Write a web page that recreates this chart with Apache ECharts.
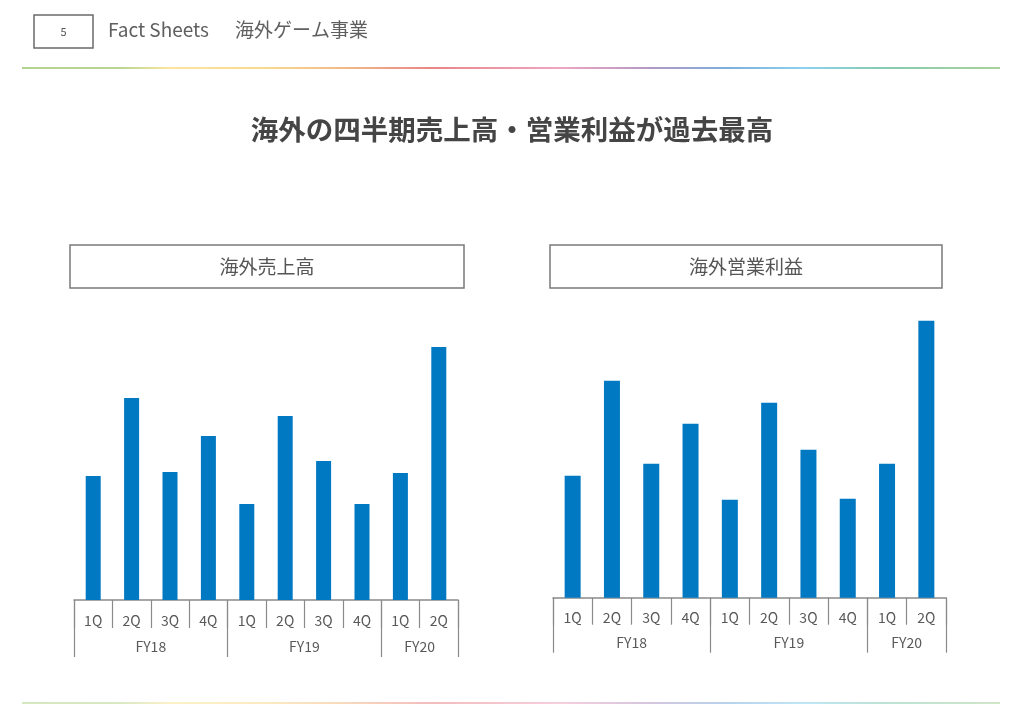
<!DOCTYPE html>
<html>
<head>
<meta charset="utf-8">
<script src="https://cdn.jsdelivr.net/npm/echarts@6/dist/echarts.min.js"></script>
<style>
html,body{margin:0;padding:0;background:#fff;}
#chart{width:1024px;height:716px;}
</style>
</head>
<body>
<div id="chart"></div>
<script>
// ---- data ----
const quarters = ['1Q','2Q','3Q','4Q','1Q','2Q','3Q','4Q','1Q','2Q'];
const fiscalYears = ['FY18','FY19','FY20'];
const groupSizes = [4,4,2];
const overseasSales = [124, 202, 128, 164, 96, 184, 139, 96, 127, 253];
const overseasProfit = [122, 217, 134, 174, 98, 195, 148, 99, 134, 277];
const pageTitle = '海外の四半期売上高・営業利益が過去最高';
const leftTitle = '海外売上高';
const rightTitle = '海外営業利益';
const headerLatin = 'Fact Sheets';
const headerJa = '海外ゲーム事業';
const pageNo = '5';

// build group axis (points at category boundaries / group centres)
const groupPoints = new Array(quarters.length + 1).fill('');
const boundaryIdx = [0];
let acc = 0;
groupSizes.forEach((s, i) => {
  groupPoints[acc + s / 2] = fiscalYears[i];
  acc += s;
  boundaryIdx.push(acc);
});

const FONT = '"Noto Sans CJK JP", "Noto Sans", sans-serif';
const AX = '#8a8a8a';
const LBL = '#595959';
const BAR = '#0079c2';

function axesFor(gridIndex, shortLen, longLen, qMargin, fyMargin) {
  return [
    {
      type: 'category', gridIndex, position: 'bottom', data: quarters,
      axisLine: {show: true, lineStyle: {color: AX, width: 1.5}},
      axisTick: {show: true, interval: 0, length: shortLen, lineStyle: {color: AX, width: 1.2}},
      axisLabel: {interval: 0, margin: qMargin, color: LBL, fontSize: 14, fontFamily: FONT},
      splitLine: {show: false}
    },
    {
      type: 'category', gridIndex, position: 'bottom', data: groupPoints, boundaryGap: false,
      axisLine: {show: false},
      axisTick: {show: true, length: longLen,
        interval: (i) => boundaryIdx.indexOf(i) >= 0,
        lineStyle: {color: AX, width: 1.2}},
      axisLabel: {margin: fyMargin, color: LBL, fontSize: 14, fontFamily: FONT,
        interval: (i, v) => v !== ''},
      splitLine: {show: false}
    }
  ];
}

const lineStops = [
  {offset: 0.00, color: '#b3d48f'},
  {offset: 0.10, color: '#b8d692'},
  {offset: 0.15, color: '#fbe59b'},
  {offset: 0.25, color: '#f8d98f'},
  {offset: 0.33, color: '#f2ba86'},
  {offset: 0.42, color: '#e98688'},
  {offset: 0.55, color: '#efa6c1'},
  {offset: 0.64, color: '#b498c4'},
  {offset: 0.72, color: '#7eaedb'},
  {offset: 0.80, color: '#8ad2ef'},
  {offset: 0.88, color: '#86cbb2'},
  {offset: 1.00, color: '#a9d19b'}
];
function grad() {
  return {type: 'linear', x: 0, y: 0, x2: 1, y2: 0, colorStops: lineStops};
}

const chart = echarts.init(document.getElementById('chart'));
chart.setOption({
  backgroundColor: '#ffffff',
  animation: false,
  textStyle: {fontFamily: FONT},
  title: [{
    text: pageTitle, left: 'center', top: 111,
    textStyle: {fontSize: 27.5, fontWeight: 'bold', color: '#454545', fontFamily: FONT}
  }],
  grid: [
    {left: 74, right: 566, top: 340, bottom: 116},
    {left: 553, right: 78, top: 317.7, bottom: 118.3}
  ],
  xAxis: [
    ...axesFor(0, 28, 57, 14, 39.5),
    ...axesFor(1, 27, 55, 13, 38)
  ],
  yAxis: [
    {type: 'value', gridIndex: 0, min: 0, max: 260, show: false},
    {type: 'value', gridIndex: 1, min: 0, max: 280, show: false}
  ],
  series: [
    {type: 'bar', name: leftTitle, xAxisIndex: 0, yAxisIndex: 0, data: overseasSales,
      barWidth: 15, itemStyle: {color: BAR}},
    {type: 'bar', name: rightTitle, xAxisIndex: 2, yAxisIndex: 1, data: overseasProfit,
      barWidth: 16, itemStyle: {color: BAR}}
  ],
  graphic: [
    {type: 'rect', shape: {x: 34, y: 15, width: 59, height: 33},
      style: {fill: '#fff', stroke: '#6a6a6a', lineWidth: 1.5}},
    {type: 'text', x: 63.5, y: 31.5,
      style: {text: pageNo, fontSize: 11, fill: '#555', fontFamily: FONT, align: 'center', verticalAlign: 'middle'}},
    {type: 'text', x: 108, y: 30,
      style: {text: headerLatin, fontSize: 19, fill: '#5f5f5f', fontFamily: FONT, verticalAlign: 'middle'}},
    {type: 'text', x: 235, y: 30,
      style: {text: headerJa, fontSize: 19, fill: '#5f5f5f', fontFamily: FONT, verticalAlign: 'middle'}},
    {type: 'rect', shape: {x: 22, y: 67, width: 978, height: 2}, style: {fill: grad()}},
    {type: 'rect', shape: {x: 22, y: 702, width: 978, height: 2}, style: {fill: grad(), opacity: 0.55}},
    {type: 'rect', shape: {x: 70, y: 245, width: 394, height: 43},
      style: {fill: '#fff', stroke: '#7a7a7a', lineWidth: 1.5}},
    {type: 'text', x: 267, y: 266.5,
      style: {text: leftTitle, fontSize: 19, fill: '#555', fontFamily: FONT, align: 'center', verticalAlign: 'middle'}},
    {type: 'rect', shape: {x: 550, y: 245, width: 392, height: 43},
      style: {fill: '#fff', stroke: '#7a7a7a', lineWidth: 1.5}},
    {type: 'text', x: 746, y: 266.5,
      style: {text: rightTitle, fontSize: 19, fill: '#555', fontFamily: FONT, align: 'center', verticalAlign: 'middle'}}
  ]
});
</script>
</body>
</html>
